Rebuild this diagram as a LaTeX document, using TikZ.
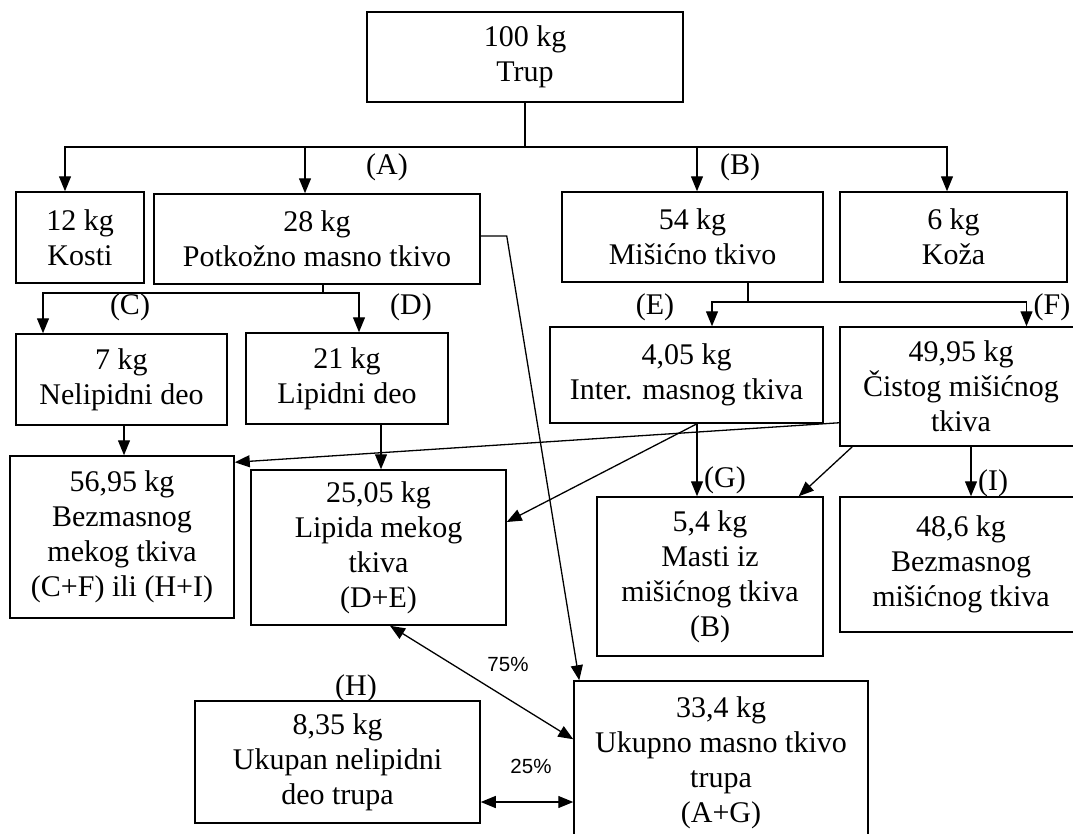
\documentclass[tikz,border=0pt]{standalone}
\usepackage{fontspec}
\setmainfont{Liberation Serif}
\newfontfamily\pctfont{Liberation Sans}
\usetikzlibrary{arrows.meta}
\tikzset{
	box/.style={draw, line width=1.5pt, align=center, inner sep=0pt, font=\fontsize{30}{35}\selectfont},
	lbl/.style={inner sep=0pt, font=\fontsize{30}{35}\selectfont},
	pct/.style={inner sep=0pt, font=\pctfont\fontsize{20.5}{24}\selectfont},
	ln/.style={line width=1.3pt},
	arr/.style={line width=1.3pt, -{Triangle[length=15pt,width=12pt]}},
	dbl/.style={line width=1.3pt, {Triangle[length=15pt,width=12pt]}-{Triangle[length=15pt,width=12pt]}}
}

\begin{document}
\begin{tikzpicture}[x=1pt,y=-1pt]
			\useasboundingbox (0,0) rectangle (1073,833);
			%%%%% START %%%%%
			
			\node[box, minimum width=316pt, minimum height=90pt] (trup) at (525,57) {100 kg\\Trup};
			
			\node[box, minimum width=128pt, minimum height=91pt] (kosti) at (80,237.5) {12 kg\\Kosti};
			\node[box, minimum width=326pt, minimum height=90pt] (potk) at (317,239) {28 kg\\Potkožno masno tkivo};
			\node[box, minimum width=261pt, minimum height=90pt] (misic) at (692.5,237) {54 kg\\Mišićno tkivo};
			\node[box, minimum width=227pt, minimum height=90pt] (koza) at (953.5,237) {6 kg\\Koža};
			
			\node[box, minimum width=211pt, minimum height=91pt] (neli) at (121.5,379.5) {7 kg\\Nelipidni deo};
			\node[box, minimum width=202pt, minimum height=91pt] (lipd) at (347,378.5) {21 kg\\Lipidni deo};
			\node[box, minimum width=273pt, minimum height=96pt] (inter) at (686.5,375) {4,05 kg\\Inter. masnog tkiva};
			\node[box, minimum width=242pt, minimum height=119pt] (cist) at (961,386.5) {49,95 kg\\Čistog mišićnog\\tkiva};
			
			\node[box, minimum width=224pt, minimum height=162pt] (bezm) at (122,537) {56,95 kg\\Bezmasnog\\mekog tkiva\\(C+F) ili (H+I)};
			\node[box, minimum width=255pt, minimum height=155pt] (lipm) at (378.5,547.5) {25,05 kg\\Lipida mekog\\tkiva\\(D+E)};
			\node[box, minimum width=226pt, minimum height=159pt] (masti) at (710,576.5) {5,4 kg\\Masti iz\\mišićnog tkiva\\(B)};
			\node[box, minimum width=242pt, minimum height=135pt] (bmis) at (961,564.5) {48,6 kg\\Bezmasnog\\mišićnog tkiva};
			
			\node[box, minimum width=285pt, minimum height=122pt] (ukup) at (337.5,762) {8,35 kg\\Ukupan nelipidni\\deo trupa};
			\node[box, minimum width=294pt, minimum height=164pt] (ukmt) at (721,763) {33,4 kg\\Ukupno masno tkivo\\trupa\\(A+G)};
			
			% letters
			\node[lbl] (lblA) at (387,167) {(A)};
			\node[lbl] (lblB) at (740,167) {(B)};
			\node[lbl] (lblC) at (130,307) {(C)};
			\node[lbl] (lblD) at (411,307) {(D)};
			\node[lbl] (lblE) at (655,307) {(E)};
			\node[lbl] (lblF) at (1052,307) {(F)};
			\node[lbl] (lblG) at (725,480) {(G)};
			\node[lbl] (lblI) at (993,483) {(I)};
			\node[lbl] (lblH) at (356,688) {(H)};
			\node[pct] (p75) at (508,664) {75\%};
			\node[pct] (p25) at (531,766) {25\%};
			
			% trup
			\coordinate (hub) at (trup.south |- 0,147);
			\draw[ln] (trup.south) -- (hub);
			\draw[arr] (hub) -| ([xshift=-15pt]kosti.north);
			\draw[arr] (hub) -| ([xshift=-12pt]potk.north);
			\draw[arr] (hub) -| ([xshift=4.5pt]misic.north);
			\draw[arr] (hub) -| ([xshift=-6.5pt]koza.north);
			
			% potkozno
			\coordinate (psplit) at ([xshift=6pt]potk.south |- 0,293);
			\draw[ln] ([xshift=6pt]potk.south) -- (psplit);
			\draw[arr] (psplit) -| ([xshift=-78.5pt]neli.north);
			\draw[arr] (psplit) -| ([xshift=12pt]lipd.north);
			\draw[arr] ([yshift=3pt]potk.east) -- ++(26,0) -- ([xshift=6pt]ukmt.north west);
			
			% misicno
			\coordinate (msplit) at ([xshift=55.5pt]misic.south |- 0,302);
			\draw[ln] ([xshift=55.5pt]misic.south) -- (msplit);
			\draw[arr] (msplit) -| ([xshift=25.5pt]inter.north);
			\draw[arr] (msplit) -| ([xshift=65.5pt]cist.north);
			
			\draw[arr] ([xshift=2.5pt]neli.south) -- ([xshift=2.5pt]neli.south |- bezm.north);
			\draw[arr] ([xshift=34pt]lipd.south) -- ([xshift=34pt]lipd.south |- lipm.north);
			
			\draw[arr] ([yshift=24pt]cist.south west) -- ([yshift=-7pt]bezm.north east);
			\draw[arr] ([xshift=10.5pt]inter.south) -- ([xshift=10.5pt]inter.south |- masti.north);
			\draw[arr] ([xshift=10.5pt]inter.south) -- ([yshift=25.5pt]lipm.east);
			\draw[arr] ([xshift=13pt]cist.south west) -- ([xshift=-25pt]masti.north east);
			\draw[arr] ([xshift=10pt]cist.south) -- ([xshift=10pt]cist.south |- bmis.north);
			
			\draw[dbl] ([xshift=11.5pt]lipm.south) -- ([yshift=-59pt]ukmt.north west);
			\draw[dbl] ([yshift=-40pt]ukup.east) -- ([yshift=-40pt]ukup.east -| ukmt.west);
			
			%%%%% END %%%%%
		\end{tikzpicture}
\end{document}
